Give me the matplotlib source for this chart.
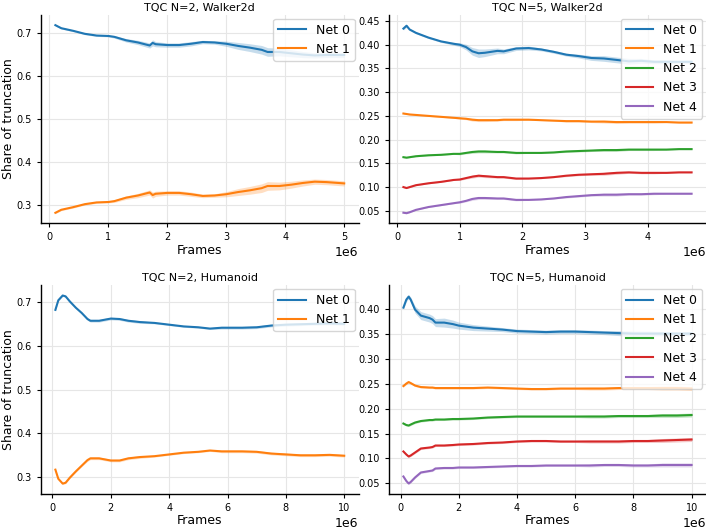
import matplotlib
matplotlib.use("Agg")
import matplotlib.pyplot as plt
import numpy as np

# ---------------- data (frames in 1e6) ----------------
# TQC N=2, Walker2d
w2_x = [0.1, 0.2, 0.4, 0.6, 0.8, 1.0, 1.1, 1.3, 1.5, 1.7, 1.75, 1.8, 2.0, 2.2, 2.4, 2.6,
        2.8, 3.0, 3.2, 3.4, 3.6, 3.7, 3.9, 4.1, 4.3, 4.5, 4.7, 5.0]
w2_net0 = [0.717, 0.710, 0.704, 0.697, 0.693, 0.692, 0.690, 0.682, 0.677, 0.670, 0.676, 0.673,
           0.671, 0.671, 0.674, 0.678, 0.677, 0.674, 0.669, 0.665, 0.660, 0.655, 0.655, 0.652,
           0.649, 0.647, 0.648, 0.648]
w2_net1 = [0.283, 0.290, 0.296, 0.303, 0.307, 0.308, 0.310, 0.318, 0.323, 0.330, 0.324, 0.327,
           0.329, 0.329, 0.326, 0.322, 0.323, 0.326, 0.331, 0.335, 0.340, 0.345, 0.345, 0.348,
           0.352, 0.355, 0.354, 0.351]
w2_sd = [0.002, 0.002, 0.002, 0.002, 0.002, 0.002, 0.003, 0.004, 0.005, 0.006, 0.007, 0.006,
         0.005, 0.005, 0.005, 0.004, 0.004, 0.006, 0.008, 0.009, 0.010, 0.010, 0.009, 0.008,
         0.007, 0.006, 0.006, 0.006]

# TQC N=5, Walker2d
w5_x = [0.1, 0.15, 0.2, 0.3, 0.5, 0.7, 0.9, 1.0, 1.1, 1.2, 1.3, 1.4, 1.6, 1.7, 1.9, 2.1,
        2.3, 2.5, 2.7, 2.9, 3.1, 3.3, 3.5, 3.7, 3.9, 4.1, 4.3, 4.5, 4.7]
w5_net0 = [0.434, 0.440, 0.432, 0.425, 0.415, 0.407, 0.402, 0.400, 0.395, 0.386, 0.382, 0.383,
           0.387, 0.386, 0.392, 0.393, 0.390, 0.385, 0.379, 0.376, 0.372, 0.371, 0.368, 0.365,
           0.366, 0.364, 0.364, 0.364, 0.364]
w5_net1 = [0.255, 0.254, 0.253, 0.252, 0.250, 0.248, 0.246, 0.245, 0.244, 0.242, 0.241, 0.241,
           0.241, 0.242, 0.242, 0.242, 0.241, 0.240, 0.239, 0.239, 0.238, 0.238, 0.237, 0.237,
           0.237, 0.237, 0.237, 0.236, 0.236]
w5_net2 = [0.163, 0.162, 0.163, 0.165, 0.167, 0.168, 0.170, 0.170, 0.172, 0.174, 0.175, 0.175,
           0.174, 0.174, 0.172, 0.172, 0.172, 0.173, 0.175, 0.176, 0.177, 0.178, 0.178, 0.179,
           0.179, 0.179, 0.179, 0.180, 0.180]
w5_net3 = [0.100, 0.098, 0.100, 0.104, 0.108, 0.111, 0.115, 0.116, 0.119, 0.122, 0.124, 0.123,
           0.121, 0.121, 0.118, 0.118, 0.119, 0.121, 0.124, 0.126, 0.127, 0.128, 0.130, 0.131,
           0.130, 0.130, 0.130, 0.131, 0.131]
w5_net4 = [0.046, 0.045, 0.047, 0.052, 0.058, 0.062, 0.066, 0.068, 0.071, 0.075, 0.077, 0.077,
           0.076, 0.076, 0.073, 0.073, 0.074, 0.076, 0.079, 0.081, 0.083, 0.084, 0.084, 0.085,
           0.085, 0.086, 0.086, 0.086, 0.086]
w5_sd0 = [0.003, 0.003, 0.002, 0.002, 0.002, 0.002, 0.003, 0.004, 0.006, 0.008, 0.009, 0.008,
          0.006, 0.005, 0.004, 0.004, 0.003, 0.003, 0.003, 0.004, 0.005, 0.006, 0.006, 0.006,
          0.005, 0.004, 0.004, 0.003, 0.003]
w5_sd = [0.001, 0.001, 0.001, 0.001, 0.001, 0.001, 0.001, 0.002, 0.002, 0.003, 0.003, 0.003,
         0.002, 0.002, 0.002, 0.001, 0.001, 0.001, 0.002, 0.002, 0.002, 0.003, 0.003, 0.002,
         0.002, 0.002, 0.001, 0.001, 0.001]

# TQC N=2, Humanoid
h2_x = [0.1, 0.2, 0.35, 0.45, 0.6, 0.8, 1.0, 1.2, 1.3, 1.6, 2.0, 2.3, 2.6, 3.0, 3.5, 4.0,
        4.5, 5.0, 5.4, 5.8, 6.5, 7.0, 7.5, 8.0, 8.5, 9.0, 9.5, 10.0]
h2_net0 = [0.683, 0.705, 0.716, 0.714, 0.702, 0.688, 0.676, 0.662, 0.658, 0.658, 0.663, 0.662,
           0.658, 0.655, 0.653, 0.649, 0.645, 0.643, 0.640, 0.642, 0.642, 0.643, 0.647, 0.649,
           0.650, 0.651, 0.652, 0.651]
h2_net1 = [0.316, 0.295, 0.284, 0.286, 0.298, 0.312, 0.325, 0.338, 0.342, 0.342, 0.337, 0.337,
           0.342, 0.345, 0.347, 0.351, 0.355, 0.357, 0.360, 0.358, 0.358, 0.357, 0.353, 0.351,
           0.349, 0.349, 0.350, 0.348]
h2_sd = [0.002, 0.002, 0.002, 0.002, 0.002, 0.002, 0.002, 0.003, 0.003, 0.003, 0.003, 0.003,
         0.003, 0.003, 0.002, 0.002, 0.002, 0.002, 0.002, 0.003, 0.003, 0.003, 0.003, 0.003,
         0.003, 0.003, 0.003, 0.003]

# TQC N=5, Humanoid
h5_x = [0.1, 0.2, 0.28, 0.35, 0.5, 0.7, 1.0, 1.1, 1.2, 1.5, 1.8, 2.0, 2.5, 3.0, 3.5, 4.0,
        4.5, 5.0, 5.5, 6.0, 6.5, 7.0, 7.5, 8.0, 8.5, 9.0, 9.5, 10.0]
h5_net0 = [0.402, 0.418, 0.424, 0.418, 0.398, 0.386, 0.381, 0.378, 0.372, 0.372, 0.369, 0.366,
           0.362, 0.360, 0.358, 0.355, 0.354, 0.353, 0.354, 0.354, 0.353, 0.352, 0.351, 0.350,
           0.350, 0.350, 0.350, 0.350]
h5_net1 = [0.245, 0.250, 0.253, 0.251, 0.246, 0.243, 0.242, 0.242, 0.241, 0.241, 0.241, 0.241,
           0.241, 0.242, 0.241, 0.240, 0.239, 0.239, 0.240, 0.240, 0.240, 0.240, 0.241, 0.241,
           0.241, 0.241, 0.241, 0.240]
h5_net2 = [0.170, 0.167, 0.166, 0.168, 0.172, 0.175, 0.177, 0.177, 0.178, 0.178, 0.179, 0.179,
           0.180, 0.182, 0.183, 0.184, 0.184, 0.184, 0.184, 0.184, 0.184, 0.184, 0.185, 0.185,
           0.185, 0.186, 0.186, 0.187]
h5_net3 = [0.114, 0.108, 0.104, 0.106, 0.112, 0.120, 0.122, 0.123, 0.126, 0.126, 0.127, 0.128,
           0.129, 0.131, 0.132, 0.134, 0.135, 0.135, 0.134, 0.134, 0.134, 0.134, 0.134, 0.135,
           0.135, 0.136, 0.137, 0.138]
h5_net4 = [0.064, 0.055, 0.050, 0.053, 0.062, 0.072, 0.075, 0.076, 0.080, 0.081, 0.081, 0.082,
           0.082, 0.083, 0.084, 0.085, 0.085, 0.086, 0.086, 0.086, 0.086, 0.087, 0.087, 0.086,
           0.086, 0.087, 0.087, 0.087]
h5_sd0 = [0.003, 0.004, 0.004, 0.005, 0.007, 0.008, 0.008, 0.008, 0.008, 0.009, 0.008, 0.007,
          0.006, 0.005, 0.004, 0.004, 0.004, 0.004, 0.004, 0.004, 0.004, 0.004, 0.005, 0.005,
          0.005, 0.004, 0.004, 0.004]
h5_sd = [0.002, 0.002, 0.002, 0.002, 0.002, 0.002, 0.002, 0.002, 0.002, 0.002, 0.002, 0.002,
         0.002, 0.002, 0.002, 0.002, 0.002, 0.002, 0.002, 0.002, 0.003, 0.003, 0.003, 0.003,
         0.003, 0.004, 0.004, 0.004]

titles = ["TQC N=2, Walker2d", "TQC N=5, Walker2d", "TQC N=2, Humanoid", "TQC N=5, Humanoid"]
colors = ["#1f77b4", "#ff7f0e", "#2ca02c", "#d62728", "#9467bd"]

#_____________________________________________________________________________
def draw_panel(ax, title, x, series, sds, ylabel):

    x = np.array(x) * 1e6
    for i, (y, sd) in enumerate(zip(series, sds)):
        y = np.array(y)
        sd = np.array(sd)
        ax.fill_between(x, y - sd, y + sd, color=colors[i], alpha=0.25, lw=0)
        ax.plot(x, y, color=colors[i], lw=1.5, label="Net %d" % i)

    ax.set_title(title, fontsize=8, pad=3)
    ax.set_xlabel("Frames", fontsize=9, labelpad=1)
    if ylabel:
        ax.set_ylabel("Share of truncation", fontsize=9, labelpad=1)
    ax.ticklabel_format(axis="x", style="sci", scilimits=(6, 6))
    ax.tick_params(labelsize=7, length=3, width=0.8)
    ax.xaxis.get_offset_text().set_fontsize(9)
    ax.grid(True, color="#e6e6e6", lw=0.8)
    ax.set_axisbelow(True)
    for s in ["top", "right"]:
        ax.spines[s].set_visible(False)
    for s in ["left", "bottom"]:
        ax.spines[s].set_color("black")
        ax.spines[s].set_linewidth(1.0)
    ax.legend(loc="upper right", fontsize=9, handlelength=2.2, borderaxespad=0.3)

#_____________________________________________________________________________
fig = plt.figure(figsize=(7.06, 5.3), dpi=100)

ax1 = fig.add_axes([0.058, 0.579, 0.450, 0.393])
ax2 = fig.add_axes([0.551, 0.579, 0.449, 0.393])
ax3 = fig.add_axes([0.058, 0.068, 0.450, 0.394])
ax4 = fig.add_axes([0.551, 0.068, 0.449, 0.394])

draw_panel(ax1, titles[0], w2_x, [w2_net0, w2_net1], [w2_sd, w2_sd], True)
draw_panel(ax2, titles[1], w5_x, [w5_net0, w5_net1, w5_net2, w5_net3, w5_net4],
           [w5_sd0, w5_sd, w5_sd, w5_sd, w5_sd], False)
draw_panel(ax3, titles[2], h2_x, [h2_net0, h2_net1], [h2_sd, h2_sd], True)
draw_panel(ax4, titles[3], h5_x, [h5_net0, h5_net1, h5_net2, h5_net3, h5_net4],
           [h5_sd0, h5_sd, h5_sd, h5_sd, h5_sd], False)

ax1.set_yticks([0.3, 0.4, 0.5, 0.6, 0.7])
ax3.set_yticks([0.3, 0.4, 0.5, 0.6, 0.7])
ax2.set_yticks([0.05, 0.10, 0.15, 0.20, 0.25, 0.30, 0.35, 0.40, 0.45])
ax4.set_yticks([0.05, 0.10, 0.15, 0.20, 0.25, 0.30, 0.35, 0.40])
ax3.set_xticks([0, 2e6, 4e6, 6e6, 8e6, 10e6])
ax4.set_xticks([0, 2e6, 4e6, 6e6, 8e6, 10e6])

fig.savefig("out.png", dpi=100)
